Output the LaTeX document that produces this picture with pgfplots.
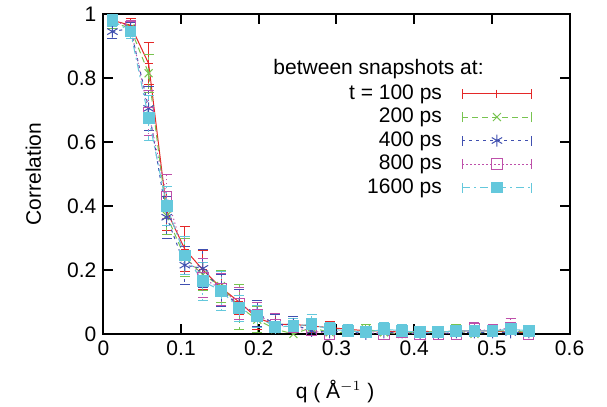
\documentclass[border=0pt]{standalone}
\usepackage{fontspec}
\setmainfont{Liberation Sans}
\usepackage{pgfplots}
\usepackage{pgfplotstable}
\pgfplotsset{compat=1.18}
\definecolor{cred}{RGB}{228,40,40}
\definecolor{cgreen}{RGB}{120,196,80}
\definecolor{cblue}{RGB}{64,80,176}
\definecolor{cmag}{RGB}{190,80,170}
\definecolor{ccyan}{RGB}{100,200,220}
\newcommand\fs{\fontsize{10.5}{12}\selectfont}

\pgfplotstableread{
x y e
0.0116 0.980 0.02
0.0349 0.965 0.02
0.0582 0.845 0.065
0.0815 0.385 0.06
0.1048 0.265 0.07
0.1281 0.200 0.06
0.1514 0.145 0.045
0.1747 0.100 0.04
0.1980 0.050 0.035
0.2213 0.030 0.03
0.2446 0.030 0.02
0.2679 0.025 0.02
0.2912 0.020 0.02
0.3145 0.015 0.015
0.3378 0.010 0.015
0.3611 0.010 0.015
0.3844 0.005 0.015
0.4077 0.010 0.015
0.4310 0.005 0.015
0.4543 0.010 0.02
0.4776 0.010 0.015
0.5009 0.010 0.015
0.5242 0.005 0.015
0.5475 0.005 0.015
}\tred
\pgfplotstableread{
x y e
0.0116 0.975 0.02
0.0349 0.955 0.02
0.0582 0.815 0.06
0.0815 0.370 0.06
0.1048 0.240 0.06
0.1281 0.185 0.05
0.1514 0.150 0.05
0.1747 0.085 0.07
0.1980 0.045 0.04
0.2213 0.015 0.025
0.2446 0.000 0.02
0.2679 0.020 0.02
0.2912 0.005 0.015
0.3145 0.005 0.015
0.3378 0.015 0.015
0.3611 0.005 0.015
0.3844 0.000 0.015
0.4077 0.010 0.015
0.4310 0.005 0.015
0.4543 0.010 0.02
0.4776 0.000 0.015
0.5009 0.010 0.015
0.5242 0.010 0.015
0.5475 0.005 0.015
}\tgreen
\pgfplotstableread{
x y e
0.0116 0.945 0.02
0.0349 0.955 0.02
0.0582 0.705 0.07
0.0815 0.365 0.065
0.1048 0.215 0.06
0.1281 0.205 0.06
0.1514 0.135 0.05
0.1747 0.090 0.05
0.1980 0.065 0.04
0.2213 0.030 0.03
0.2446 0.030 0.025
0.2679 0.010 0.02
0.2912 0.005 0.02
0.3145 0.010 0.02
0.3378 0.000 0.02
0.3611 0.005 0.02
0.3844 0.005 0.02
0.4077 0.000 0.02
0.4310 0.000 0.02
0.4543 0.005 0.02
0.4776 0.005 0.02
0.5009 0.005 0.02
0.5242 0.005 0.02
0.5475 0.005 0.02
}\tblue
\pgfplotstableread{
x y e
0.0116 0.980 0.02
0.0349 0.960 0.02
0.0582 0.690 0.07
0.0815 0.430 0.07
0.1048 0.245 0.06
0.1281 0.175 0.06
0.1514 0.140 0.05
0.1747 0.095 0.05
0.1980 0.060 0.04
0.2213 0.030 0.035
0.2446 0.020 0.03
0.2679 0.010 0.025
0.2912 0.000 0.02
0.3145 -0.005 0.02
0.3378 0.005 0.02
0.3611 0.000 0.02
0.3844 0.005 0.02
0.4077 0.000 0.02
0.4310 0.000 0.02
0.4543 0.000 0.02
0.4776 0.015 0.02
0.5009 0.010 0.02
0.5242 0.020 0.03
0.5475 0.000 0.02
}\tmag
\pgfplotstableread{
x y e
0.0116 0.980 0.02
0.0349 0.945 0.02
0.0582 0.675 0.07
0.0815 0.400 0.06
0.1048 0.245 0.06
0.1281 0.165 0.06
0.1514 0.135 0.06
0.1747 0.080 0.04
0.1980 0.055 0.035
0.2213 0.022 0.025
0.2446 0.025 0.025
0.2679 0.030 0.03
0.2912 0.015 0.02
0.3145 0.010 0.02
0.3378 0.005 0.02
0.3611 0.015 0.02
0.3844 0.010 0.02
0.4077 0.005 0.015
0.4310 0.005 0.015
0.4543 0.010 0.015
0.4776 0.010 0.015
0.5009 0.010 0.015
0.5242 0.015 0.015
0.5475 0.010 0.015
}\tcyan

\begin{document}
\begin{tikzpicture}
\begin{axis}[
  scale only axis, width=233.1pt, height=160pt,
  xmin=0, xmax=0.6, ymin=0, ymax=1,
  xtick={0,0.1,...,0.6}, ytick={0,0.2,...,1},
  /pgf/number format/assume math mode=true,
  tick label style={font=\fs},
  label style={font=\fs},
  axis line style={line width=1pt},
  tick style={line width=1pt, black},
  major tick length=5pt,
  tick align=inside,
  xlabel={q ( Å$^{-1}$ )},
  ylabel={Correlation},
  xlabel style={at={(axis description cs:0.497,-0.181)}, anchor=center},
  ylabel style={at={(axis description cs:-0.15,0.5)}, anchor=center},
  legend style={draw=none, fill=none, font=\fs, at={(rel axis cs:0.933,0.798)}, anchor=north east,
     nodes={inner sep=0pt, text height=8pt, text depth=2.5pt}, row sep=1.25pt, column sep=10pt},
  legend cell align=right,
  legend plot pos=right,
  legend image code/.code={
    \draw[#1] (0pt,0pt) -- (34.5pt,0pt);
    \draw[#1,solid] (0pt,-2.5pt) -- (0pt,2.5pt) (34.5pt,-2.5pt) -- (34.5pt,2.5pt);
    \draw[#1] plot coordinates {(17.25pt,0pt)};
  },
  error bars/error mark options={rotate=90, mark size=2.5pt},
  every axis plot/.append style={line width=0.5pt},
]
\addplot[color=cred, solid, mark=+, mark size=2pt, mark options={solid},
  error bars/.cd, y dir=both, y explicit, error bar style={solid, line width=0.5pt}]
  table[x=x, y=y, y error=e] {\tred};
\addlegendentry{t = 100 ps}
\addplot[color=cgreen, dash pattern=on 3pt off 2pt, mark=x, mark size=2.8pt, mark options={solid},
  error bars/.cd, y dir=both, y explicit, error bar style={dash pattern=on 3pt off 2pt, line width=0.5pt}]
  table[x=x, y=y, y error=e] {\tgreen};
\addlegendentry{200 ps}
\addplot[color=cblue, dash pattern=on 1.5pt off 2pt, mark=asterisk, mark size=3pt, mark options={solid},
  error bars/.cd, y dir=both, y explicit, error bar style={dash pattern=on 1.5pt off 2pt, line width=0.5pt}]
  table[x=x, y=y, y error=e] {\tblue};
\addlegendentry{400 ps}
\addplot[color=cmag, dash pattern=on 0.6pt off 1.4pt, mark=square, mark size=2.6pt, mark options={solid},
  error bars/.cd, y dir=both, y explicit, error bar style={dash pattern=on 0.6pt off 1.4pt, line width=0.5pt}]
  table[x=x, y=y, y error=e] {\tmag};
\addlegendentry{800 ps}
\addplot[color=ccyan, dash pattern=on 4pt off 2pt on 1pt off 2pt, mark=square*, mark size=2.7pt, mark options={solid, fill=ccyan},
  error bars/.cd, y dir=both, y explicit, error bar style={dash pattern=on 4pt off 2pt on 1pt off 2pt, line width=0.5pt}]
  table[x=x, y=y, y error=e] {\tcyan};
\addlegendentry{1600 ps}
\node[font=\fs, anchor=west, inner sep=0pt] at (rel axis cs:0.364,0.828) {between snapshots at:};
\end{axis}
\pgfresetboundingbox
\useasboundingbox (-51.7pt,-36.5pt) rectangle (251.8pt,167pt);
\end{tikzpicture}
\end{document}
